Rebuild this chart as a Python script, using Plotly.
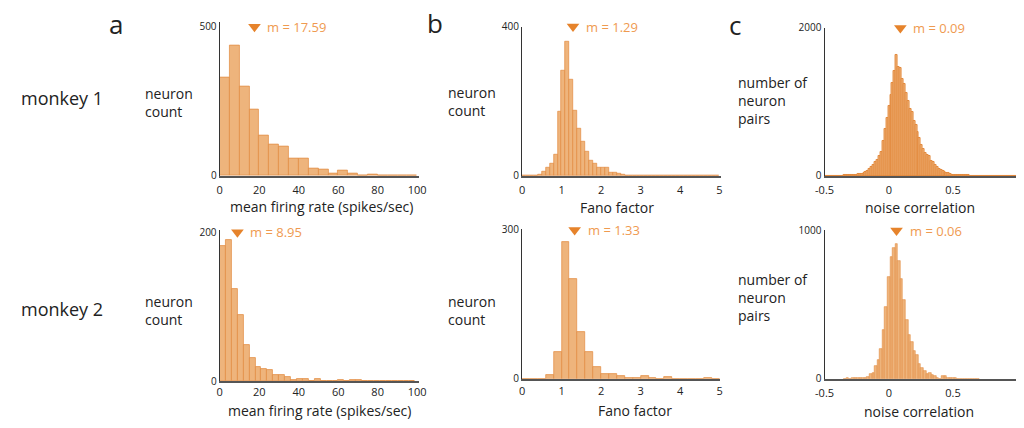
import plotly.graph_objects as go

# ---------------- data ----------------
# panel a: mean firing rate histograms
rate_m1_width = 5
rate_m1_counts = [330, 436, 301, 222, 135, 106, 99, 58, 60, 26, 22, 9, 18, 9, 3, 5, 1, 1, 1, 1]
rate_m2_width = 3
rate_m2_counts = [182, 190, 124, 89, 49, 31, 19, 16, 15, 9, 9, 5, 2, 3, 3, 0, 3, 0, 0, 0,
                  1, 0, 2, 2, 0, 0, 0, 0, 0, 0, 0, 0, 0]
# panel b: Fano factor histograms
fano_m1_width = 0.1
fano_m1_counts = [0, 0, 0, 1, 4, 12, 21, 33, 56, 171, 282, 359, 259, 175, 128, 93, 64, 40, 32, 22,
                  23, 23, 10, 9, 6, 3, 1, 2, 2, 2, 1, 1, 1, 1, 0, 1, 1, 0, 1, 0,
                  0, 0, 0, 1, 0, 0, 0, 0, 0, 0]
fano_m2_width = 0.2
fano_m2_counts = [0, 0, 0, 8, 55, 275, 201, 94, 55, 24, 10, 10, 5, 1, 1, 5, 2, 0, 3, 0,
                  0, 0, 0, 1, 0]
# panel c: noise correlation histograms
nc_m1_start = -0.5
nc_m1_width = 0.015
nc_m1_counts = [2, 1, 2, 1, 2, 3, 2, 3, 4, 4, 6, 7, 9, 10, 13, 15, 17, 22, 28, 31,
                38, 52, 63, 91, 118, 150, 185, 215, 270, 318, 478, 640, 780, 950, 1100, 1250, 1420, 1630, 1470, 1455,
                1304, 1247, 1125, 1017, 900, 869, 747, 682, 596, 508, 421, 365, 313, 278, 270, 204, 191, 147, 117, 100,
                83, 61, 52, 39, 35, 22, 17, 15, 13, 12, 11, 9, 8, 7, 6, 5, 5, 4, 3, 3,
                3, 2, 2, 2, 1, 1, 1, 1, 0, 1, 1, 0, 1, 0, 1, 0, 0, 1, 0, 1]
nc_m2_start = -0.35
nc_m2_width = 0.02
nc_m2_counts = [2, 3, 2, 3, 4, 6, 3, 4, 6, 13, 33, 41, 85, 126, 202, 332, 484, 690, 825, 881,
                907, 797, 673, 532, 400, 296, 250, 185, 159, 100, 74, 54, 35, 41, 28, 20, 6, 2, 20, 20,
                6, 6, 6, 3, 2, 2, 1, 2, 1, 0, 1, 0, 1]

means = ["17.59", "1.29", "0.09", "8.95", "1.33", "0.06"]
x_titles = ["mean firing rate (spikes/sec)", "Fano factor", "noise correlation"]
row_labels = ["monkey 1", "monkey 2"]
panel_letters = ["a", "b", "c"]
y_labels = ["neuron<br>count", "neuron<br>count", "number of<br>neuron<br>pairs"]

W, H = 1024, 428
FILL = "#EEB47C"
EDGE = "#E3893D"
TRI = "#E6832B"
MTXT = "#EF9A50"
FONT = "Open Sans"


def px(x):
    return x / W


def py(y):
    return 1 - y / H


def centers(start, width, n):
    return [start + width * (i + 0.5) for i in range(n)]


panels = [
    # (counts, start, width, xdomain px, xrange, ydomain px, yrange, ytop, xticks, xticktext, edge width, standoff)
    (rate_m1_counts, 0, rate_m1_width, (213.3, 416), (0, 101), (174, 15), (0, 514), 500,
     [0, 20, 40, 60, 80, 100], None, 0.7, 3),
    (fano_m1_counts, 0, fano_m1_width, (520.7, 722.7), (0, 5.03), (174, 19.3), (0, 400), 400,
     [0, 1, 2, 3, 4, 5], None, 0.7, 3),
    (nc_m1_counts, nc_m1_start, nc_m1_width, (828.3, 1023), (-0.5, 0.99), (174, 20.7), (0, 2000), 2000,
     [-0.5, 0, 0.5], ["-0.5", "0", "0.5"], 1.0, 3),
    (rate_m2_counts, 0, rate_m2_width, (213.3, 416), (0, 101), (386.7, 230), (0, 203), 200,
     [0, 20, 40, 60, 80, 100], None, 0.7, 0),
    (fano_m2_counts, 0, fano_m2_width, (520.7, 721.7), (0, 5.0), (384.3, 229), (0, 302), 300,
     [0, 1, 2, 3, 4, 5], None, 0.7, 1),
    (nc_m2_counts, nc_m2_start, nc_m2_width, (828.3, 1023), (-0.5, 0.99), (384.3, 230), (0, 1004), 1000,
     [-0.5, 0, 0.5], ["-0.5", "0", "0.5"], 0.6, 3),
]

fig = go.Figure()
layout = dict(
    width=W, height=H, margin=dict(l=0, r=0, t=0, b=0),
    paper_bgcolor="white", plot_bgcolor="white",
    showlegend=False, bargap=0,
    font=dict(family=FONT, color="#222222"),
)
annotations = []

for i, (counts, start, width, xd, xr, yd, yr, ytop, xt, xtt, ew, so) in enumerate(panels):
    n = i + 1
    xa = "x" if n == 1 else f"x{n}"
    ya = "y" if n == 1 else f"y{n}"
    fig.add_trace(go.Bar(
        x=centers(start, width, len(counts)), y=counts, width=width,
        marker=dict(color=FILL, line=dict(color=EDGE, width=ew)),
        xaxis=xa, yaxis=ya, hoverinfo="skip",
    ))
    m = float(means[i])
    fig.add_trace(go.Scatter(
        x=[m], y=[ytop], mode="markers", xaxis=xa, yaxis=ya, cliponaxis=False,
        marker=dict(symbol="triangle-down", size=11, color=TRI, line=dict(width=0)),
        hoverinfo="skip",
    ))
    annotations.append(dict(
        x=m, y=ytop, xref=xa, yref=ya, xanchor="left", yanchor="middle", xshift=11,
        text=f"m = {means[i]}", showarrow=False, font=dict(size=13, color=MTXT, family=FONT),
    ))
    xkey = "xaxis" if n == 1 else f"xaxis{n}"
    ykey = "yaxis" if n == 1 else f"yaxis{n}"
    layout[xkey] = dict(
        domain=[px(xd[0]), px(xd[1])], range=list(xr), anchor=ya,
        showgrid=False, zeroline=False, showline=True, linecolor="#555555", linewidth=1.6,
        ticks="", tickvals=xt, ticktext=xtt if xtt else [str(v) for v in xt],
        ticklabelstandoff=so,
        tickfont=dict(size=11, color="#222222", family=FONT), fixedrange=True,
    )
    layout[ykey] = dict(
        domain=[py(yd[0]), py(yd[1])], range=list(yr), anchor=xa,
        showgrid=False, zeroline=False, showline=True, linecolor="#333333", linewidth=1.3,
        ticks="", tickvals=[0, ytop], ticktext=["0", str(ytop)],
        tickfont=dict(size=10, color="#222222", family=FONT), fixedrange=True,
    )

# axis titles
title_pos = [(317, 206), (617, 207), (925, 207), (315, 417), (636, 417), (924, 418)]
for i, (x, y) in enumerate(title_pos):
    annotations.append(dict(x=px(x), y=py(y), xref="paper", yref="paper", xanchor="center",
                            yanchor="middle", text=x_titles[i % 3], showarrow=False,
                            font=dict(size=14, color="#222222", family=FONT)))

# panel letters
for letter, (x, y) in zip(panel_letters, [(108, 17), (432, 16), (737, 18)]):
    annotations.append(dict(x=px(x), y=py(y), xref="paper", yref="paper", xanchor="center",
                            yanchor="middle", text=letter, showarrow=False,
                            font=dict(size=26, color="#222222", family=FONT)))

# row labels
for lab, y in zip(row_labels, [93, 312]):
    annotations.append(dict(x=px(9), y=py(y), xref="paper", yref="paper", xanchor="left",
                            yanchor="middle", text=lab, showarrow=False,
                            font=dict(size=18, color="#222222", family=FONT)))

# y labels
ylab_pos = [(135, 98), (443, 97), (738, 96), (135, 313), (443, 313), (738, 300)]
for i, (x, y) in enumerate(ylab_pos):
    annotations.append(dict(x=px(x), y=py(y), xref="paper", yref="paper", xanchor="left",
                            yanchor="middle", align="left", text=y_labels[i % 3], showarrow=False,
                            font=dict(size=14, color="#222222", family=FONT)))

layout["annotations"] = annotations
fig.update_layout(**layout)
fig.write_html("out.html")
